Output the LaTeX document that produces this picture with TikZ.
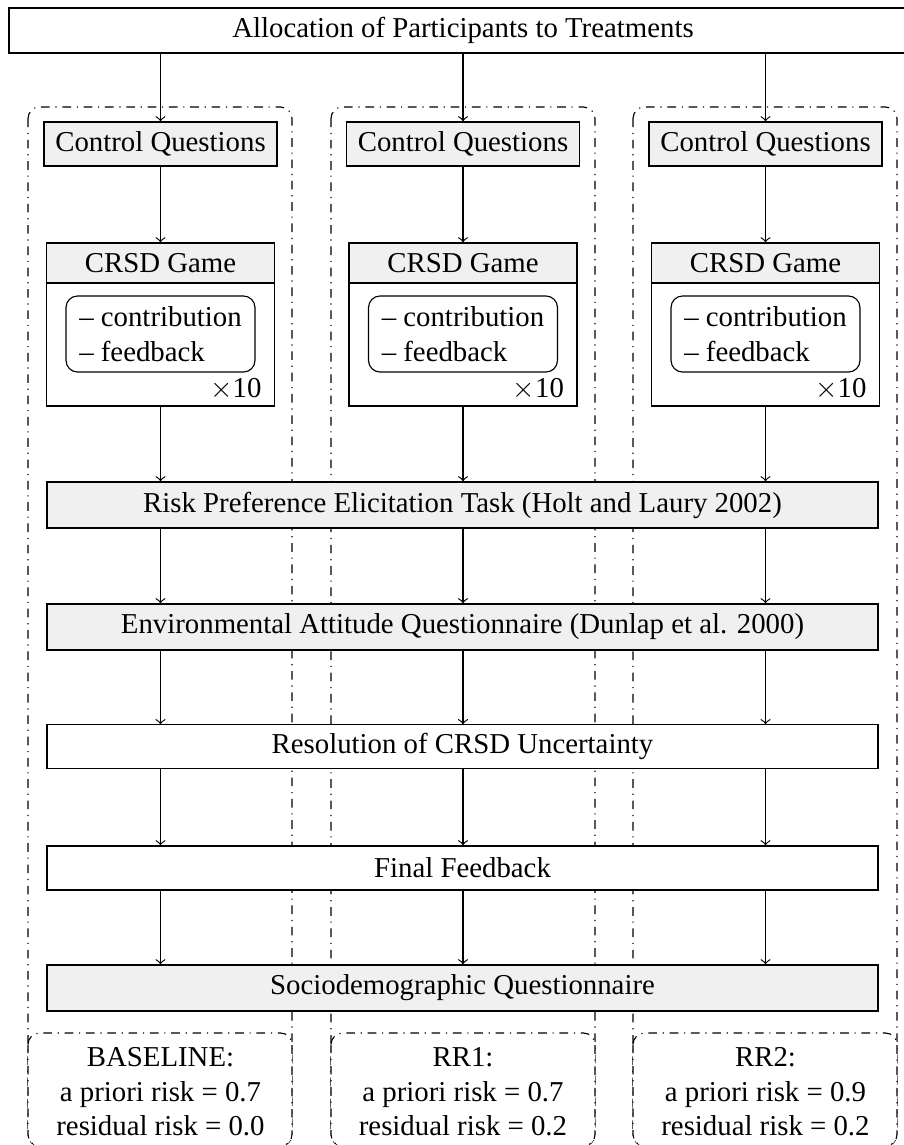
\documentclass[tikz,border=0pt]{standalone}
\usepackage{fontspec}
\setmainfont{Liberation Serif}
\usepackage{tikz}
\usetikzlibrary{calc}

\begin{document}
\begin{tikzpicture}[x=0.3472pt,y=-0.3472pt,
  box/.style={draw,fill=white,inner sep=0pt,minimum height=15.6pt},
  greybox/.style={box,fill=black!6},
  widebox/.style={minimum width=288.5pt,minimum height=16pt},
  treatment/.style={draw,dashdotted,rounded corners=4pt},
  flow/.style={->}]
\useasboundingbox (0,0) rectangle (904,1145);
% treatment columns
\foreach \x/\i in {28/1,331/2,633/3}{
  \draw[treatment] (\x,107) rectangle ++(264,1039);
  \draw[treatment,fill=white] (\x,1033) rectangle ++(264,113);
}
\node[box,minimum width=315.3pt] (alloc) at (463,30.5) {Allocation of Participants to Treatments};
\foreach \x/\i in {160.5/1,463/2,765.5/3}{
  \node[greybox,minimum width=80.9pt,minimum height=15.3pt] (cq\i) at (\x,144) {Control Questions};
  \node[box,minimum width=79.2pt,minimum height=56.6pt] (game\i) at (\x,324.5) {};
  \node[greybox,minimum width=79.2pt,minimum height=13.9pt] (head\i) at (\x,263) {CRSD Game};
  \node[draw,rounded corners=4pt,align=left,inner sep=0pt,minimum width=65.6pt,minimum height=26.4pt] (steps\i) at (\x,334) {-- contribution\\-- feedback};
  \node[inner sep=0pt,anchor=base east] (rep\i) at ($(\x,397)+(101.5,0)$) {$\times$10};
}
\node[greybox,widebox] (risk) at (462.5,505) {Risk Preference Elicitation Task (Holt and Laury 2002)};
\node[greybox,widebox] (env) at (462.5,627) {Environmental Attitude Questionnaire (Dunlap et al. 2000)};
\node[box,widebox,minimum height=15pt] (resol) at (462.5,746.5) {Resolution of CRSD Uncertainty};
\node[box,widebox,minimum height=15.3pt] (final) at (462.5,868) {Final Feedback};
\node[greybox,widebox] (socio) at (462.5,988) {Sociodemographic Questionnaire};
% treatment labels
\node[align=center,inner sep=0pt] (lab1) at (160.5,1092) {BASELINE:\\a priori risk = 0.7\\residual risk = 0.0};
\node[align=center,inner sep=0pt] (lab2) at (463,1092) {RR1:\\a priori risk = 0.7\\residual risk = 0.2};
\node[align=center,inner sep=0pt] (lab3) at (765.5,1092) {RR2:\\a priori risk = 0.9\\residual risk = 0.2};
% arrows
\foreach \i in {1,2,3}{
  \draw[flow] (alloc.south -| cq\i.north) -- (cq\i.north);
  \draw[flow] (cq\i.south) -- (head\i.north);
  \draw[flow] (game\i.south) -- (risk.north -| game\i.south);
  \draw[flow] (risk.south -| game\i.south) -- (env.north -| game\i.south);
  \draw[flow] (env.south -| game\i.south) -- (resol.north -| game\i.south);
  \draw[flow] (resol.south -| game\i.south) -- (final.north -| game\i.south);
  \draw[flow] (final.south -| game\i.south) -- (socio.north -| game\i.south);
}
\end{tikzpicture}
\end{document}
